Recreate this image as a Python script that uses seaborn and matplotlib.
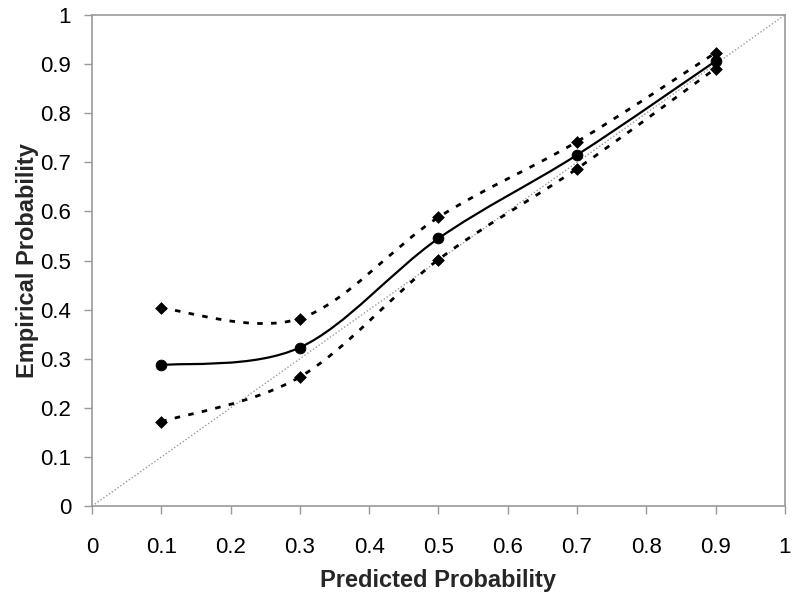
import numpy as np
import pandas as pd
import matplotlib
matplotlib.use("Agg")
import matplotlib.pyplot as plt
from matplotlib.path import Path
from matplotlib.patches import PathPatch
import seaborn as sns

# data
predicted = [0.1, 0.3, 0.5, 0.7, 0.9]
empirical_mean = [0.287, 0.323, 0.545, 0.715, 0.906]
empirical_upper = [0.403, 0.382, 0.588, 0.742, 0.923]
empirical_lower = [0.172, 0.263, 0.502, 0.687, 0.891]
ticks = [0, 0.1, 0.2, 0.3, 0.4, 0.5, 0.6, 0.7, 0.8, 0.9, 1]
tick_labels = ["0", "0.1", "0.2", "0.3", "0.4", "0.5", "0.6", "0.7", "0.8", "0.9", "1"]

sns.set_theme(style="white")
plt.rcParams['font.family'] = ['Liberation Sans', 'DejaVu Sans']


def smooth_path(xs, ys):
    """Excel-style smoothed line as cubic Bezier path through the points"""
    pts = np.column_stack([xs, ys])
    n = len(pts)
    verts = [pts[0]]
    codes = [Path.MOVETO]
    for i in range(n - 1):
        p_prev = pts[max(i - 1, 0)]
        p0 = pts[i]
        p1 = pts[i + 1]
        p_next = pts[min(i + 2, n - 1)]
        c1 = p0 + (p1 - p_prev) / 6.0
        c2 = p1 - (p_next - p0) / 6.0
        verts += [c1, c2, p1]
        codes += [Path.CURVE4] * 3
    return Path(verts, codes)


df = pd.DataFrame({
    'predicted': predicted,
    'mean': empirical_mean,
    'upper': empirical_upper,
    'lower': empirical_lower,
})

fig, ax = plt.subplots(figsize=(8, 5.99), dpi=100)
fig.subplots_adjust(left=0.115, right=0.981, bottom=0.155, top=0.975)

# reference diagonal
sns.lineplot(x=[0, 1], y=[0, 1], ax=ax, color='#999999', linewidth=1,
             linestyle=(0, (1, 1.5)), zorder=1)

# smoothed lines
for col, style, lw in [('upper', (0, (2, 3)), 2), ('lower', (0, (2, 3)), 2),
                       ('mean', '-', 1.6)]:
    patch = PathPatch(smooth_path(df['predicted'], df[col]), facecolor='none',
                      edgecolor='black', linewidth=lw, linestyle=style, zorder=2)
    ax.add_patch(patch)

# markers
sns.scatterplot(data=df, x='predicted', y='upper', ax=ax, marker='D', s=36,
                color='black', edgecolor='black', zorder=3)
sns.scatterplot(data=df, x='predicted', y='lower', ax=ax, marker='D', s=36,
                color='black', edgecolor='black', zorder=3)
sns.scatterplot(data=df, x='predicted', y='mean', ax=ax, marker='o', s=60,
                color='black', edgecolor='black', zorder=3)

ax.set_xlim(0, 1)
ax.set_ylim(0, 1)
ax.set_xticks(ticks)
ax.set_xticklabels(tick_labels)
ax.set_yticks(ticks)
ax.set_yticklabels(tick_labels)
ax.tick_params(axis='both', which='major', direction='out', length=6, width=1,
               color='#999999', labelsize=16, labelcolor='black',
               bottom=True, left=True)
ax.tick_params(axis='x', pad=16)
ax.tick_params(axis='y', pad=9)
for side in ['left', 'bottom', 'top', 'right']:
    ax.spines[side].set_color('#999999')
    ax.spines[side].set_linewidth(1.2)
ax.grid(False)

ax.set_xlabel('Predicted Probability', fontsize=17, fontweight='bold', labelpad=8)
ax.set_ylabel('Empirical Probability', fontsize=17, fontweight='bold', labelpad=1)

plt.savefig('out.png', dpi=100)
plt.close()
